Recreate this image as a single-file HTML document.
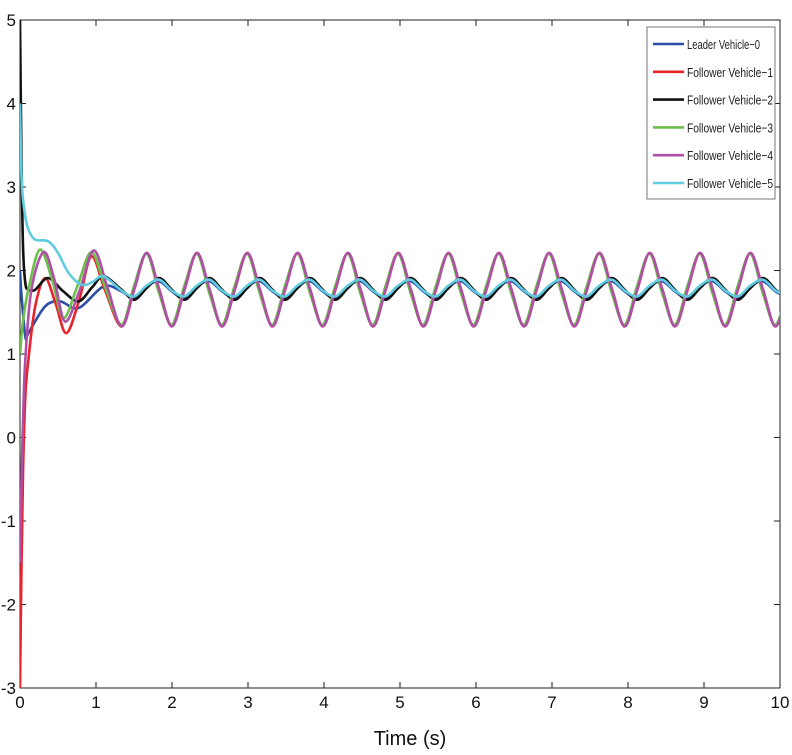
<!DOCTYPE html>
<html><head><meta charset="utf-8"><style>
html,body{margin:0;padding:0;background:#fff;}
svg{display:block;font-family:"Liberation Sans",Arial,sans-serif;}
</style></head><body>
<svg id="chart" width="792" height="755" viewBox="0 0 792 755"></svg>
<script>
// ---- data ----
const yTicks = [-3,-2,-1,0,1,2,3,4,5];
const xTicks = [0,1,2,3,4,5,6,7,8,9,10];
const seriesNames = ["Leader Vehicle\u22120","Follower Vehicle\u22121","Follower Vehicle\u22122","Follower Vehicle\u22123","Follower Vehicle\u22124","Follower Vehicle\u22125"];
const steadyT = [1.336,1.502,1.667,1.833,1.998,2.164,2.329,2.495,2.66,2.826,2.991,3.157,3.322,3.488,3.653,3.819,3.984,4.15,4.315,4.481,4.646,4.812,4.977,5.143,5.308,5.474,5.639,5.805,5.97,6.136,6.301,6.467,6.632,6.798,6.963,7.129,7.294,7.46,7.625,7.791,7.956,8.122,8.287,8.453,8.618,8.784,8.949,9.115,9.28,9.446,9.611,9.777,9.942,10.108];
const blueT = [0,0.02,0.07,0.11,0.33,0.53,0.77,1.1];
const blueV = [2.0,1.7,1.21,1.25,1.57,1.63,1.55,1.81];
const blueS = [1.75,1.67,1.81,1.87,1.75,1.67,1.81,1.87,1.75,1.67,1.81,1.87,1.75,1.67,1.81,1.87,1.75,1.67,1.81,1.87,1.75,1.67,1.81,1.87,1.75,1.67,1.81,1.87,1.75,1.67,1.81,1.87,1.75,1.67,1.81,1.87,1.75,1.67,1.81,1.87,1.75,1.67,1.81,1.87,1.75,1.67,1.81,1.87,1.75,1.67,1.81,1.87,1.75,1.67];
const redT = [0,0.02,0.04,0.07,0.11,0.2,0.33,0.47,0.61,0.78,0.94,1.12];
const redV = [-3,-1.5,-0.4,0.49,0.93,1.57,1.91,1.6,1.25,1.65,2.17,1.76];
const redS = [1.33,1.77,2.21,1.77,1.33,1.77,2.21,1.77,1.33,1.77,2.21,1.77,1.33,1.77,2.21,1.77,1.33,1.77,2.21,1.77,1.33,1.77,2.21,1.77,1.33,1.77,2.21,1.77,1.33,1.77,2.21,1.77,1.33,1.77,2.21,1.77,1.33,1.77,2.21,1.77,1.33,1.77,2.21,1.77,1.33,1.77,2.21,1.77,1.33,1.77,2.21,1.77,1.33,1.77];
const blackT = [0,0.02,0.04,0.07,0.11,0.2,0.37,0.57,0.77,0.95,1.1];
const blackV = [5,3.3,2.28,1.85,1.77,1.77,1.91,1.75,1.63,1.8,1.93];
const blackS = [1.77,1.65,1.79,1.91,1.77,1.65,1.79,1.91,1.77,1.65,1.79,1.91,1.77,1.65,1.79,1.91,1.77,1.65,1.79,1.91,1.77,1.65,1.79,1.91,1.77,1.65,1.79,1.91,1.77,1.65,1.79,1.91,1.77,1.65,1.79,1.91,1.77,1.65,1.79,1.91,1.77,1.65,1.79,1.91,1.77,1.65,1.79,1.91,1.77,1.65,1.79,1.91,1.77,1.65];
const greenT = [0,0.04,0.11,0.26,0.42,0.57,0.75,0.94,1.12];
const greenV = [1.0,1.4,1.77,2.25,1.9,1.43,1.8,2.22,1.8];
const greenS = [1.35,1.82,2.20,1.72,1.35,1.82,2.20,1.72,1.35,1.82,2.20,1.72,1.35,1.82,2.20,1.72,1.35,1.82,2.20,1.72,1.35,1.82,2.20,1.72,1.35,1.82,2.20,1.72,1.35,1.82,2.20,1.72,1.35,1.82,2.20,1.72,1.35,1.82,2.20,1.72,1.35,1.82,2.20,1.72,1.35,1.82,2.20,1.72,1.35,1.82,2.20,1.72,1.35,1.82];
const magentaT = [0,0.02,0.04,0.07,0.15,0.31,0.45,0.59,0.78,0.97,1.15];
const magentaV = [-1.5,-0.5,0.2,0.93,1.77,2.22,1.9,1.39,1.75,2.24,1.8];
const magentaS = [1.33,1.77,2.21,1.77,1.33,1.77,2.21,1.77,1.33,1.77,2.21,1.77,1.33,1.77,2.21,1.77,1.33,1.77,2.21,1.77,1.33,1.77,2.21,1.77,1.33,1.77,2.21,1.77,1.33,1.77,2.21,1.77,1.33,1.77,2.21,1.77,1.33,1.77,2.21,1.77,1.33,1.77,2.21,1.77,1.33,1.77,2.21,1.77,1.33,1.77,2.21,1.77,1.33,1.77];
const cyanT = [0,0.022,0.06,0.11,0.2,0.37,0.5,0.64,0.81,0.95,1.1];
const cyanV = [4.0,3.08,2.7,2.49,2.37,2.35,2.21,1.97,1.83,1.86,1.93];
const cyanS = [1.76,1.69,1.82,1.89,1.76,1.69,1.82,1.89,1.76,1.69,1.82,1.89,1.76,1.69,1.82,1.89,1.76,1.69,1.82,1.89,1.76,1.69,1.82,1.89,1.76,1.69,1.82,1.89,1.76,1.69,1.82,1.89,1.76,1.69,1.82,1.89,1.76,1.69,1.82,1.89,1.76,1.69,1.82,1.89,1.76,1.69,1.82,1.89,1.76,1.69,1.82,1.89,1.76,1.69];

// ---- layout ----
const NS = "http://www.w3.org/2000/svg";
const svg = document.getElementById('chart');
const L=20,R=780,T=20,B=688;
const xS = t => L + (t-0)/(10-0)*(R-L);
const yS = v => B - (v-(-3))/(5-(-3))*(B-T);
function mk(tag, attrs, parent){const e=document.createElementNS(NS,tag);for(const k in attrs)e.setAttribute(k,attrs[k]);(parent||svg).appendChild(e);return e;}

const defs = mk('defs',{});
const cp = mk('clipPath',{id:'plotclip'},defs);
mk('rect',{x:L,y:T,width:R-L,height:B-T},cp);

const box = mk('rect',{x:L,y:T,width:R-L,height:B-T,fill:'none',stroke:'#222','stroke-width':1});



yTicks.forEach(v=>{
  const y=yS(v);
  const t1=mk('path',{d:`M${L} ${y}H${L+6}M${R} ${y}H${R-6}`,stroke:'#222','stroke-width':1});
  
  
  const tx=mk('text',{x:L-4,y:y+6,'text-anchor':'end','font-size':17,fill:'#111'});
  tx.textContent=v;
  
  
});
xTicks.forEach(v=>{
  const x=xS(v);
  const t1=mk('path',{d:`M${x} ${B}V${B-6}M${x} ${T}V${T+6}`,stroke:'#222','stroke-width':1});
  
  
  const tx=mk('text',{x:x,y:B+20,'text-anchor':'middle','font-size':17,fill:'#111'});
  tx.textContent=v;
  
  
});
const xt=mk('text',{x:410,y:745,'text-anchor':'middle','font-size':20,fill:'#111'});
xt.textContent='Time (s)';



function pathFrom(ts,vs){
  const p=ts.map((t,i)=>[xS(t),yS(vs[i])]);
  let d=`M${p[0][0].toFixed(2)} ${p[0][1].toFixed(2)}`;
  for(let i=0;i<p.length-1;i++){
    const p0=p[Math.max(0,i-1)],p1=p[i],p2=p[i+1],p3=p[Math.min(p.length-1,i+2)];
    const c1=[p1[0]+(p2[0]-p0[0])/6,p1[1]+(p2[1]-p0[1])/6];
    const c2=[p2[0]-(p3[0]-p1[0])/6,p2[1]-(p3[1]-p1[1])/6];
    d+=`C${c1[0].toFixed(2)} ${c1[1].toFixed(2)} ${c2[0].toFixed(2)} ${c2[1].toFixed(2)} ${p2[0].toFixed(2)} ${p2[1].toFixed(2)}`;
  }
  return d;
}
const series=[
  {n:'leader-vehicle-0',c:'#2c4fa8',t:blueT,v:blueV,s:blueS},
  {n:'follower-vehicle-1',c:'#e8232b',t:redT,v:redV,s:redS},
  {n:'follower-vehicle-2',c:'#111111',t:blackT,v:blackV,s:blackS},
  {n:'follower-vehicle-3',c:'#6bbf4a',t:greenT,v:greenV,s:greenS},
  {n:'follower-vehicle-4',c:'#b04fa6',t:magentaT,v:magentaV,s:magentaS},
  {n:'follower-vehicle-5',c:'#5fcce0',t:cyanT,v:cyanV,s:cyanS}
];
const g=mk('g',{'clip-path':'url(#plotclip)'});
series.forEach(s=>{
  const p=mk('path',{d:pathFrom(s.t.concat(steadyT),s.v.concat(s.s)),fill:'none',stroke:s.c,'stroke-width':2.6,'stroke-linejoin':'round'},g);
  
  
});

const lg=mk('g',{});


mk('rect',{x:647,y:27,width:128,height:172,fill:'#fff',stroke:'#777','stroke-width':1},lg);
series.forEach((s,i)=>{
  const y=44+i*27.8;
  const ln=mk('line',{x1:653,x2:684,y1:y,y2:y,stroke:s.c,'stroke-width':2.6},lg);
  
  
  const tx=mk('text',{x:687,y:y+5,'font-size':13,fill:'#222',textLength:i===0?73:86,lengthAdjust:'spacingAndGlyphs'},lg);
  tx.textContent=seriesNames[i];
  
  
});
</script>
</body></html>
